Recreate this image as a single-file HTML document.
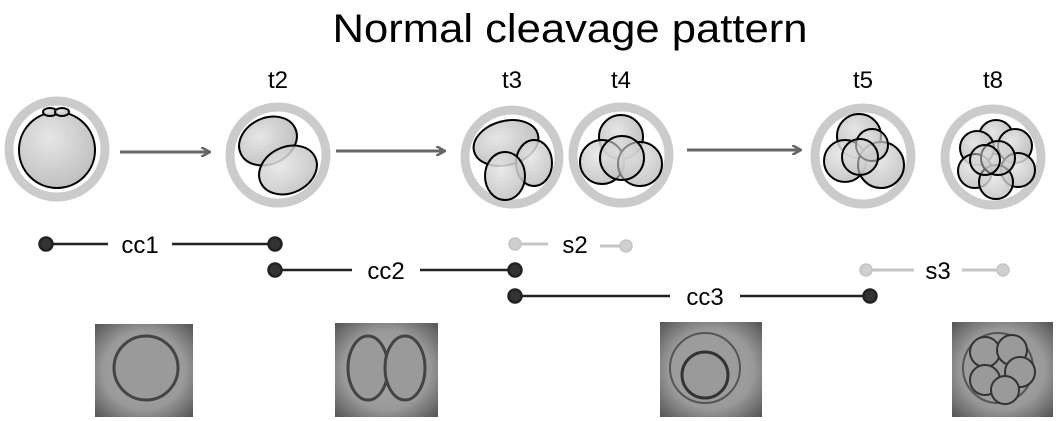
<!DOCTYPE html>
<html><head><meta charset="utf-8"><style>
html,body{margin:0;padding:0;background:#fff;width:1057px;height:421px;overflow:hidden}
svg{display:block;font-family:"Liberation Sans",sans-serif}
</style></head><body>
<svg width="1057" height="421" viewBox="0 0 1057 421">
<defs>
<radialGradient id="cell" cx="0.4" cy="0.35" r="0.8"><stop offset="0" stop-color="#e6e6e6"/><stop offset="1" stop-color="#b8b8b8"/></radialGradient>
<radialGradient id="ph" cx="0.5" cy="0.5" r="0.7"><stop offset="0" stop-color="#a8a8a8"/><stop offset="0.6" stop-color="#999"/><stop offset="1" stop-color="#555"/></radialGradient>
<marker id="ah" markerWidth="10" markerHeight="10" refX="8" refY="5" orient="auto" markerUnits="userSpaceOnUse"><path d="M0,0 L9,5 L0,10" fill="none" stroke="#666" stroke-width="2.5"/></marker>
</defs>
<text x="570" y="42" font-size="40" text-anchor="middle" textLength="475" lengthAdjust="spacingAndGlyphs">Normal cleavage pattern</text>
<g font-size="24" text-anchor="middle">
<text x="278" y="88">t2</text><text x="512" y="88">t3</text><text x="621" y="88">t4</text><text x="863" y="88">t5</text><text x="993" y="88">t8</text>
</g>
<g fill="#fff" stroke="#cbcbcb" stroke-width="9">
<circle cx="57" cy="149" r="48"/><circle cx="278" cy="155" r="48"/><circle cx="512" cy="157" r="47"/><circle cx="621" cy="155" r="48"/><circle cx="863" cy="156" r="48"/><circle cx="993" cy="157" r="48"/>
</g>
<g fill="url(#cell)" stroke="#000" stroke-width="2">
<circle cx="57" cy="150" r="38"/>
<ellipse cx="50" cy="112" rx="7" ry="4"/><ellipse cx="62" cy="112" rx="7" ry="4"/>
<ellipse cx="268" cy="141" rx="30" ry="23" transform="rotate(-25 268 141)"/>
<ellipse cx="288" cy="170" rx="30" ry="23" transform="rotate(-25 288 170)" fill-opacity="0.85"/>
<ellipse cx="506" cy="143" rx="33" ry="22" transform="rotate(-15 506 143)"/>
<ellipse cx="534" cy="163" rx="18" ry="23" fill-opacity="0.85"/>
<ellipse cx="505" cy="176" rx="20" ry="24" fill-opacity="0.85"/>
<circle cx="621" cy="137" r="22"/><circle cx="602" cy="162" r="22" fill-opacity="0.85"/><circle cx="640" cy="164" r="22" fill-opacity="0.85"/><circle cx="622" cy="158" r="22" fill-opacity="0.6"/>
<circle cx="859" cy="136" r="22"/><circle cx="845" cy="161" r="21" fill-opacity="0.85"/><circle cx="881" cy="165" r="23" fill-opacity="0.85"/><circle cx="872" cy="145" r="16" fill-opacity="0.7"/><circle cx="860" cy="157" r="18" fill-opacity="0.6"/>
<circle cx="996" cy="137" r="17"/><circle cx="977" cy="148" r="17"/><circle cx="1015" cy="146" r="17"/><circle cx="975" cy="171" r="17" fill-opacity="0.85"/><circle cx="1018" cy="170" r="17" fill-opacity="0.85"/><circle cx="996" cy="182" r="17" fill-opacity="0.8"/><circle cx="998" cy="158" r="17" fill-opacity="0.7"/><circle cx="985" cy="160" r="15" fill-opacity="0.5"/>
</g>
<g stroke="#666" stroke-width="3" marker-end="url(#ah)">
<line x1="120" y1="152" x2="209" y2="152"/><line x1="336" y1="151" x2="444" y2="151"/><line x1="687" y1="150" x2="800" y2="150"/>
</g>
<g stroke="#222" stroke-width="2.5" fill="#333">
<line x1="46" y1="244" x2="108" y2="244"/><line x1="172" y1="244" x2="275" y2="244"/>
<line x1="275" y1="270" x2="352" y2="270"/><line x1="420" y1="270" x2="515" y2="270"/>
<line x1="515" y1="296" x2="670" y2="296"/><line x1="740" y1="296" x2="870" y2="296"/>
<circle cx="46" cy="244" r="6.5"/><circle cx="275" cy="244" r="6.5"/><circle cx="275" cy="270" r="6.5"/><circle cx="515" cy="270" r="6.5"/><circle cx="515" cy="296" r="6.5"/><circle cx="870" cy="296" r="6.5"/>
</g>
<g stroke="#c4c4c4" stroke-width="3" fill="#cfcfcf">
<line x1="515" y1="244" x2="548" y2="244"/><line x1="600" y1="246" x2="625" y2="246"/>
<line x1="866" y1="270" x2="914" y2="270"/><line x1="962" y1="270" x2="1003" y2="270"/>
<circle cx="515" cy="244" r="6" stroke-width="1.5"/><circle cx="626" cy="246" r="6" stroke-width="1.5"/><circle cx="866" cy="270" r="6" stroke-width="1.5"/><circle cx="1003" cy="270" r="6" stroke-width="1.5"/>
</g>
<g font-size="24" text-anchor="middle">
<text x="140" y="253">cc1</text><text x="386" y="279">cc2</text><text x="705" y="305">cc3</text><text x="575" y="253">s2</text><text x="938" y="279">s3</text>
</g>
<g>
<rect x="95" y="324" width="98" height="93" fill="url(#ph)"/>
<circle cx="146" cy="368" r="32" fill="#9a9a9a" stroke="#444" stroke-width="3"/>
<rect x="335" y="323" width="103" height="94" fill="url(#ph)"/>
<ellipse cx="368" cy="368" rx="20" ry="32" fill="#9a9a9a" stroke="#444" stroke-width="3"/>
<ellipse cx="405" cy="368" rx="20" ry="32" fill="#9a9a9a" stroke="#444" stroke-width="3"/>
<rect x="660" y="322" width="102" height="95" fill="url(#ph)"/>
<circle cx="705" cy="368" r="35" fill="#9c9c9c" stroke="#555" stroke-width="2"/>
<circle cx="705" cy="375" r="23" fill="#9a9a9a" stroke="#333" stroke-width="3"/>
<rect x="952" y="322" width="101" height="95" fill="url(#ph)"/>
<circle cx="998" cy="368" r="35" fill="#9c9c9c" stroke="#555" stroke-width="2"/>
<circle cx="985" cy="352" r="15" fill="#9a9a9a" stroke="#333" stroke-width="2"/><circle cx="1012" cy="350" r="15" fill="#9a9a9a" stroke="#333" stroke-width="2"/><circle cx="1020" cy="372" r="15" fill="#9a9a9a" stroke="#333" stroke-width="2"/><circle cx="985" cy="380" r="15" fill="#9a9a9a" stroke="#333" stroke-width="2"/><circle cx="1005" cy="390" r="14" fill="#9a9a9a" stroke="#333" stroke-width="2"/>
</g>
</svg>
</body></html>
